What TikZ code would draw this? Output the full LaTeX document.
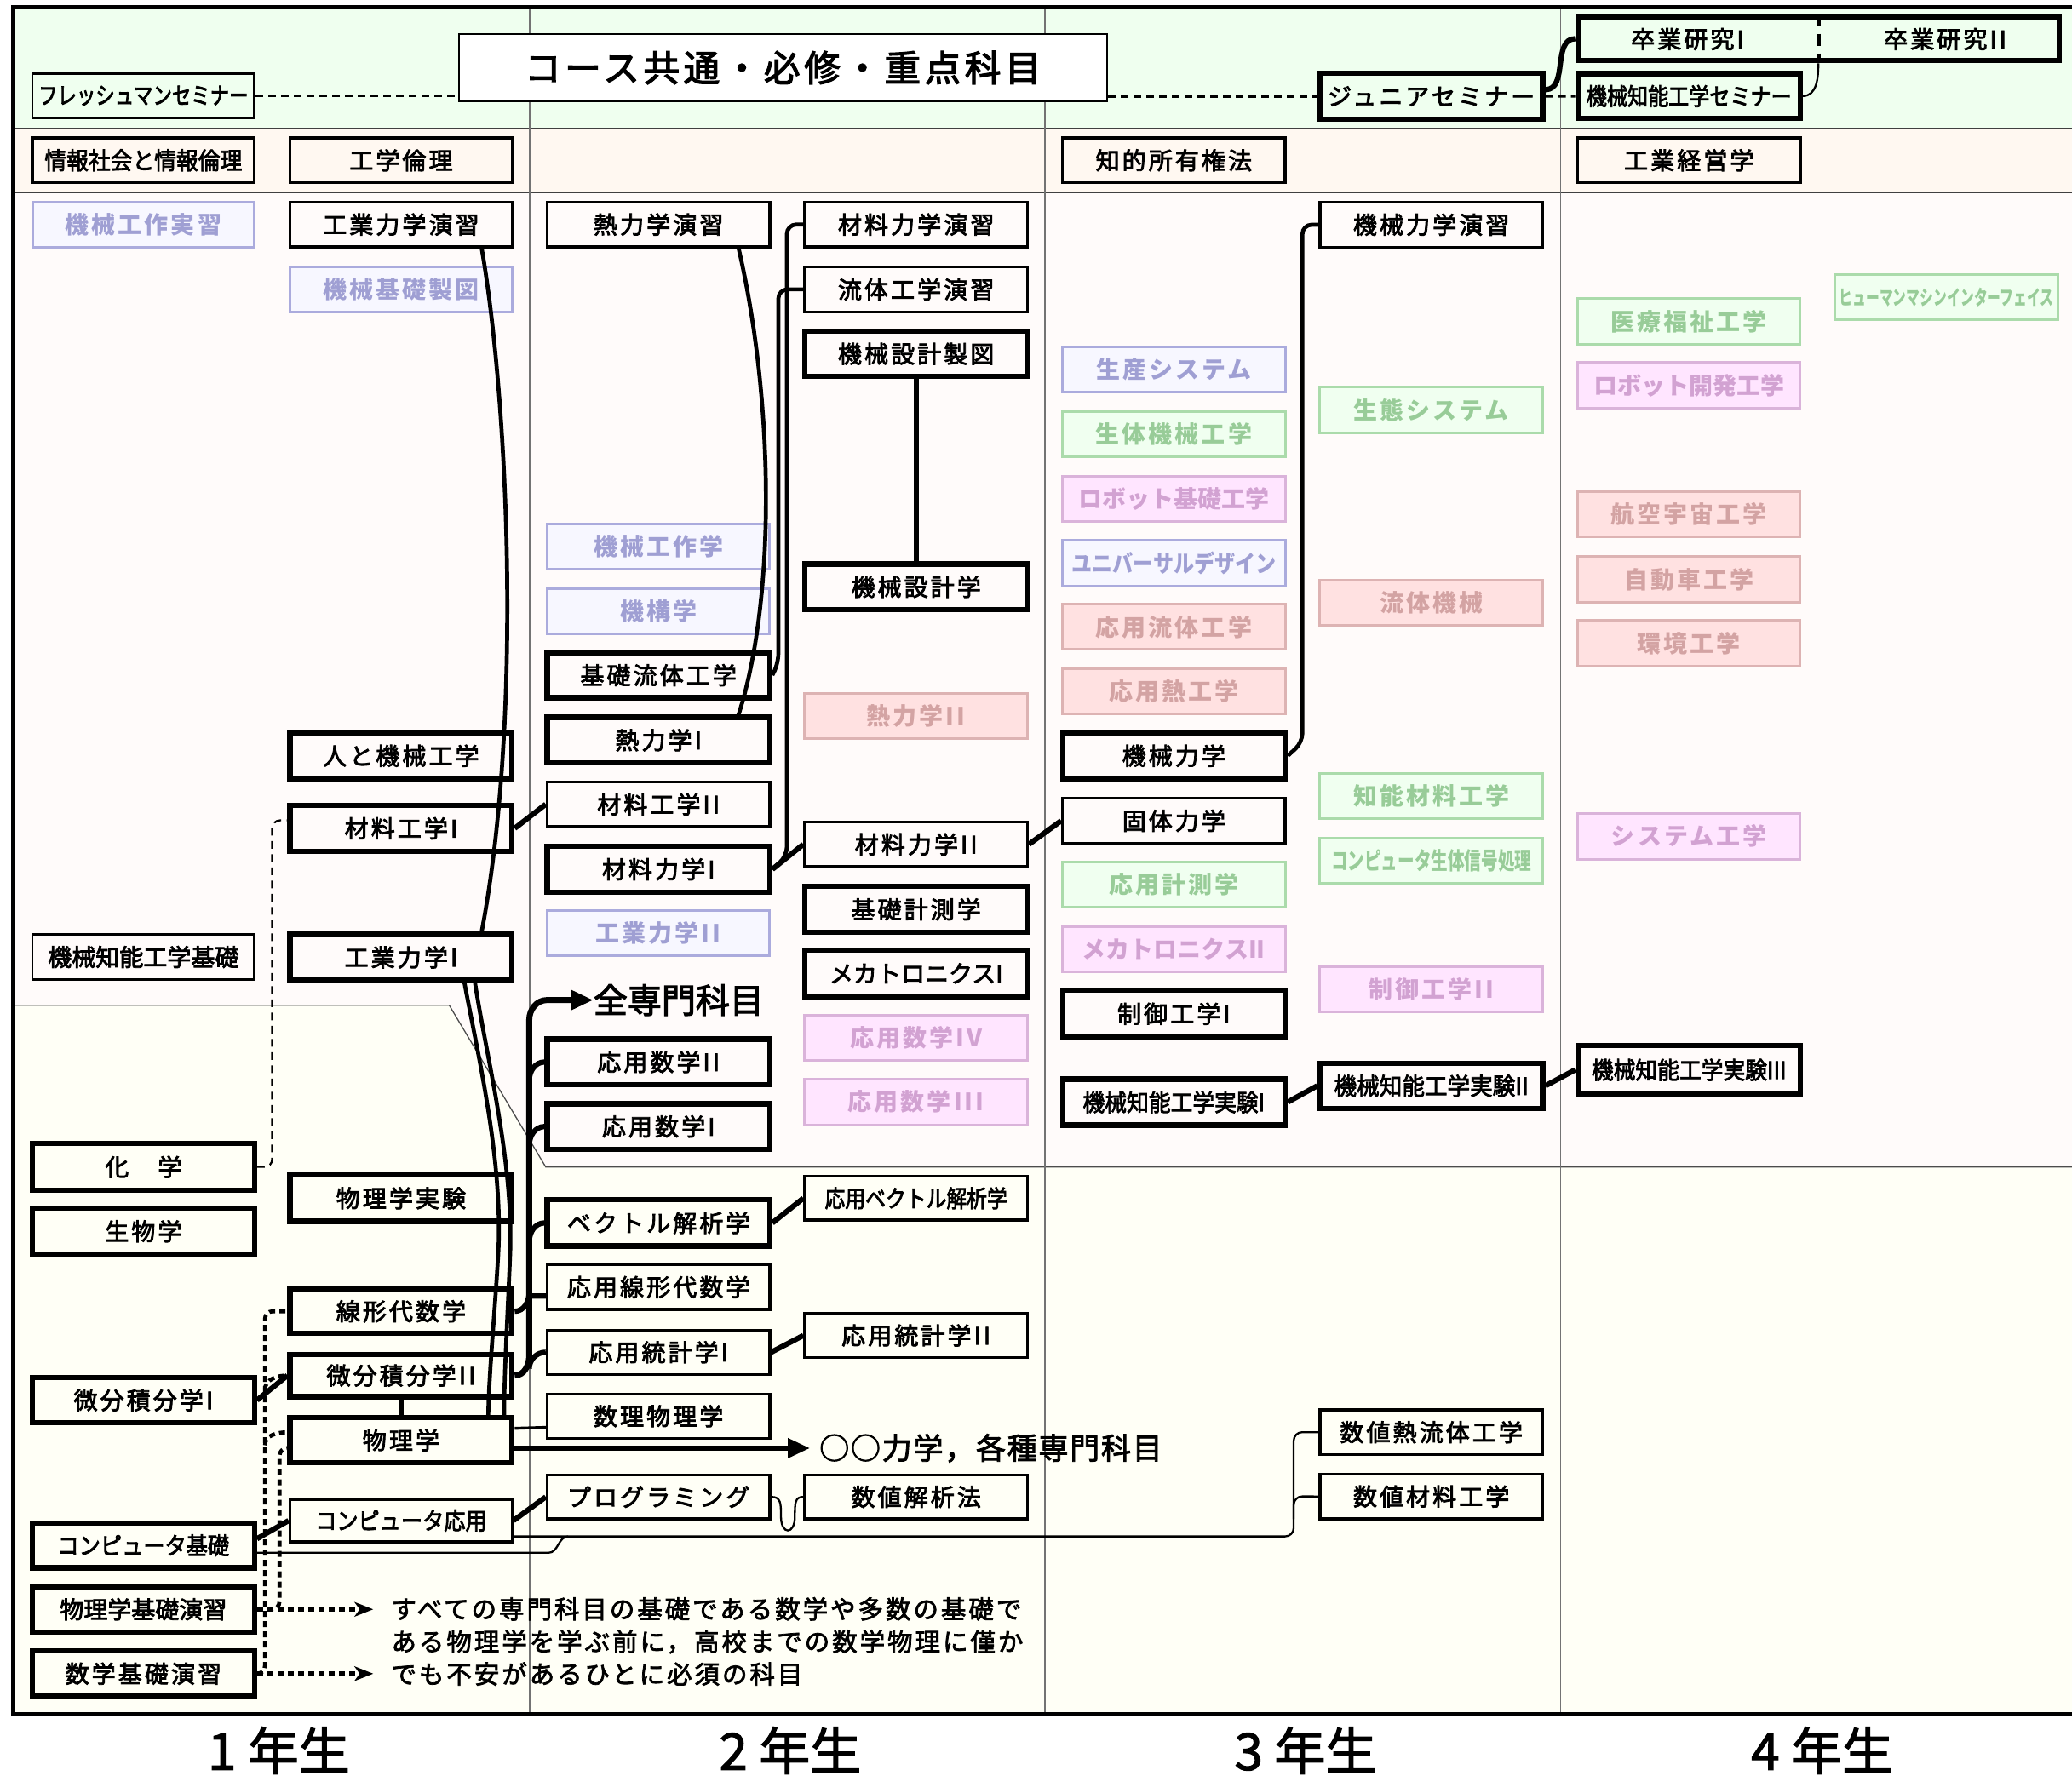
\documentclass[tikz,border=0pt]{standalone}
\usepackage{fontspec}
\usepackage{graphicx}
\usetikzlibrary{arrows.meta,calc}
\newfontfamily\jp[LetterSpace=11,FakeBold=3]{Noto Sans CJK JP}
\newfontfamily\jpn[FakeBold=3]{Noto Sans CJK JP}
\newfontfamily\jpc[LetterSpace=11]{Noto Sans CJK JP}
\newfontfamily\jpcn{Noto Sans CJK JP}
\newfontfamily\jpd[LetterSpace=10,FakeBold=2.5]{Noto Sans CJK JP}
\newfontfamily\jpm[LetterSpace=5,FakeBold=2.5]{Noto Sans CJK JP}
\newfontfamily\jpy[FakeBold=2]{Noto Sans CJK JP}
\definecolor{bandgreen}{HTML}{EFFFEF}
\definecolor{bandpeach}{HTML}{FFF8F1}
\definecolor{bgmain}{HTML}{FFFBFA}
\definecolor{bglow}{HTML}{FFFFF6}
\definecolor{cbF}{HTML}{F7F7FF}\definecolor{cbD}{HTML}{ABABDD}\definecolor{cbT}{HTML}{9F9FD3}
\definecolor{cgF}{HTML}{F0FFF0}\definecolor{cgD}{HTML}{ABDBAB}\definecolor{cgT}{HTML}{98CC98}
\definecolor{cpF}{HTML}{FFE1E1}\definecolor{cpD}{HTML}{DDB3B3}\definecolor{cpT}{HTML}{D3A3A3}
\definecolor{cvF}{HTML}{FFE5FF}\definecolor{cvD}{HTML}{DAB3DA}\definecolor{cvT}{HTML}{D2A2D2}
\newcommand\crs[7]{%
  \pgfmathsetmacro\bxw{(#5-#3-3)*1.5517}%
  \pgfmathsetmacro\bxh{(#6-#4-3)*1.5517}%
  \node[#2, minimum width=\bxw pt, minimum height=\bxh pt] (#1) at ({(#3+#5)/2},{(#4+#6)/2}) {#7};}
\newcommand\sqz[2]{\scalebox{#1}[1]{\jpn #2}}
\newcommand\sqc[2]{\scalebox{#1}[1]{\jpcn\bfseries #2}}
\begin{document}
\begin{tikzpicture}[x=1.5517pt,y=-1.5517pt,
  base/.style={rectangle, inner sep=0pt, align=center, font={\jp\fontsize{28}{30}\selectfont}},
  kb/.style={base, draw=black, line width=6.2pt},
  mb/.style={base, draw=black, line width=3.4pt},
  tb/.style={base, draw=black, line width=2.4pt},
  colbox/.style={base, line width=3pt, font={\jpc\bfseries\fontsize{28}{30}\selectfont}},
  cblue/.style={colbox, draw=cbD, fill=cbF, text=cbT},
  cgreen/.style={colbox, draw=cgD, fill=cgF, text=cgT},
  cpink/.style={colbox, draw=cpD, fill=cpF, text=cpT},
  cviol/.style={colbox, draw=cvD, fill=cvF, text=cvT},
  titlebox/.style={base, draw=black, fill=white, line width=2pt, font={\jp\fontsize{42.5}{44}\selectfont}},
  cthick/.style={line width=6.2pt},
  ccurve/.style={line width=4.7pt},
  cmed/.style={line width=3.4pt},
  cthin/.style={line width=2.3pt},
  ctrunk/.style={line width=7pt},
  cdash/.style={line width=3.4pt, dash pattern=on 9pt off 6pt},
  cdashthin/.style={line width=2.3pt, dash pattern=on 9pt off 6.5pt},
  cdot/.style={line width=4.7pt, dash pattern=on 7pt off 5pt},
  bigtip/.style={-{Triangle[length=26pt,width=22pt]}},
  smalltip/.style={-{Stealth[length=22pt,width=17pt,inset=6pt]}},
  yearlbl/.style={inner sep=0pt, font={\jpy\fontsize{60}{62}\selectfont}}
]
\useasboundingbox (0,0) rectangle (1568,1344);
\clip (0,0) rectangle (1568,1344);
\fill[white] (0,0) rectangle (1568,1344);
% backgrounds
\fill[bgmain] (10,5) rectangle (1590,1297);
\fill[bglow] (10,761) -- (340,761) -- (413,883.4) -- (1590,883.4) -- (1590,1297) -- (10,1297) -- cycle;
\fill[bandgreen] (10,5) rectangle (1590,96.8);
\fill[bandpeach] (10,96.8) rectangle (1590,145.6);
\draw[line width=1.3pt, black!75] (10,96.8) -- (1590,96.8) (10,145.6) -- (1590,145.6);
\draw[line width=1.3pt, black!70] (10,761) -- (340,761) -- (413,883.4) -- (1590,883.4);
\draw[line width=1.8pt, black!55] (401,5) -- (401,1297) (791,5) -- (791,1297) (1181,5) -- (1181,1297);
\draw[line width=4.7pt] (10.2,5.3) rectangle (1600,1297.6);
% title
\crs{title}{titlebox}{346}{24}{839}{78.4}{コース共通・必修・重点科目}
% top band
\crs{fresh}{tb}{23}{54.2}{194}{90.9}{\sqz{0.8}{フレッシュマンセミナー}}
\crs{junior}{kb}{997.3}{53.9}{1169}{91.8}{ジュニアセミナー}
\crs{kseminar}{kb}{1192.5}{54.2}{1363.8}{91.2}{\sqz{0.86}{機械知能工学セミナー}}
\crs{sotsuken}{kb}{1192.5}{11.2}{1559.6}{47.4}{}
\node[base] (sotsu1) at (1277,29.6) {卒業研究I};
\node[base] (sotsu2) at (1472,29.6) {卒業研究II};
% second band
\crs{joho}{mb}{23}{103}{194}{139.7}{\sqz{0.92}{情報社会と情報倫理}}
\crs{rinri}{mb}{218}{103}{389}{139.7}{工学倫理}
\crs{chiteki}{mb}{802.6}{103}{974}{139.7}{知的所有権法}
\crs{keiei}{mb}{1192.5}{103}{1363.8}{139.7}{工業経営学}
% column 1
\crs{kksj}{cblue}{23}{151.6}{194}{188.8}{機械工作実習}
\crs{kgen}{mb}{218}{151.6}{389}{188.3}{工業力学演習}
\crs{kkseizu}{cblue}{218}{200.4}{389}{237.7}{機械基礎製図}
\crs{hito}{kb}{218}{553.3}{389}{590.9}{人と機械工学}
\crs{zk1}{kb}{218}{608}{389}{646}{材料工学I}
\crs{kkki}{tb}{23}{705.8}{194}{743}{\sqz{1}{機械知能工学基礎}}
\crs{kg1}{kb}{218}{705.8}{389}{743.6}{工業力学I}
\crs{kagaku}{kb}{23}{864}{194}{902.6}{化　学}
\crs{jikkenb}{kb}{218}{888}{389}{926}{物理学実験}
\crs{seibutsu}{kb}{23}{913}{194}{951}{生物学}
\crs{senkei}{kb}{218}{974.3}{389}{1010.9}{線形代数学}
\crs{bibun2}{kb}{218}{1023.6}{389}{1058.8}{微分積分学II}
\crs{bibun1}{kb}{23}{1041.3}{194}{1078.5}{微分積分学I}
\crs{butsuri}{kb}{218}{1071.5}{389}{1108.9}{物理学}
\crs{capp}{mb}{218}{1133.4}{389}{1168.6}{\sqz{0.9}{コンピュータ応用}}
\crs{cbase}{kb}{23}{1151.2}{194}{1188.3}{\sqz{0.9}{コンピュータ基礎}}
\crs{butsuen}{kb}{23}{1199.6}{194}{1236.8}{\sqz{1}{物理学基礎演習}}
\crs{suuen}{kb}{23}{1248.3}{194}{1285.5}{数学基礎演習}
% column 2 left
\crs{netsuen}{mb}{412.6}{151.6}{584}{188.3}{熱力学演習}
\crs{kkosa}{cblue}{412.6}{395.2}{584}{432.2}{機械工作学}
\crs{kikou}{cblue}{412.6}{444}{584}{481.4}{機構学}
\crs{kisoryu}{kb}{412.6}{492.6}{584}{529.6}{基礎流体工学}
\crs{netsu1}{kb}{412.6}{541.5}{584}{579.1}{熱力学I}
\crs{zk2}{mb}{412.6}{590.3}{584}{627.3}{材料工学II}
\crs{zr1}{kb}{412.6}{639.2}{584}{676.8}{材料力学I}
\crs{kg2}{cblue}{412.6}{688}{584}{725}{工業力学II}
\crs{ouyou2}{kb}{412.6}{785.1}{584}{822.7}{応用数学II}
\crs{ouyou1}{kb}{412.6}{834}{584}{871.5}{応用数学I}
\crs{vector}{kb}{412.6}{906.7}{584}{944.7}{ベクトル解析学}
\crs{osenkei}{mb}{412.6}{956}{584}{992.6}{応用線形代数学}
\crs{otoukei1}{mb}{412.6}{1005.3}{584}{1041.9}{応用統計学I}
\crs{suuributsu}{mb}{412.6}{1053.7}{584}{1090.3}{数理物理学}
\crs{prog}{mb}{412.6}{1115.1}{584}{1151.1}{プログラミング}
% column 2 right
\crs{zren}{mb}{607.5}{151.6}{779}{188.3}{材料力学演習}
\crs{ryuen}{mb}{607.5}{200.4}{779}{237.7}{流体工学演習}
\crs{sekkeiseizu}{kb}{607.5}{249.2}{779}{286.5}{機械設計製図}
\crs{sekkei}{kb}{607.5}{425.4}{779}{463}{機械設計学}
\crs{netsu2}{cpink}{607.5}{523.1}{779}{560.7}{熱力学II}
\crs{zr2}{mb}{607.5}{620.8}{779}{657.5}{材料力学II}
\crs{keisoku}{kb}{607.5}{669.4}{779}{707.2}{基礎計測学}
\crs{meka1}{kb}{607.5}{717.6}{779}{756.1}{\sqz{1}{メカトロニクスI}}
\crs{ouyou4}{cviol}{607.5}{767}{779}{804.3}{応用数学IV}
\crs{ouyou3}{cviol}{607.5}{815.3}{779}{852.9}{応用数学III}
\crs{ovector}{mb}{607.5}{889}{779}{925}{\sqz{0.85}{応用ベクトル解析学}}
\crs{otoukei2}{mb}{607.5}{992.6}{779}{1029.2}{応用統計学II}
\crs{suuchi}{mb}{607.5}{1115.1}{779}{1151.1}{数値解析法}
% column 3 left
\crs{seisan}{cblue}{802.6}{261}{974}{298.4}{生産システム}
\crs{seitai}{cgreen}{802.6}{309.9}{974}{347.2}{生体機械工学}
\crs{robokiso}{cviol}{802.6}{358.8}{974}{396}{\sqc{1}{ロボット基礎工学}}
\crs{univ}{cblue}{802.6}{407.6}{974}{444.9}{\sqc{0.86}{ユニバーサルデザイン}}
\crs{oryutai}{cpink}{802.6}{456}{974}{493.2}{応用流体工学}
\crs{onetsu}{cpink}{802.6}{505}{974}{542}{応用熱工学}
\crs{kikairiki}{kb}{802.6}{553.3}{974}{590.9}{機械力学}
\crs{kotai}{mb}{802.6}{602.8}{974}{639.8}{固体力学}
\crs{okeisoku}{cgreen}{802.6}{651}{974}{688}{応用計測学}
\crs{meka2}{cviol}{802.6}{699.9}{974}{737.4}{\sqc{1}{メカトロニクスII}}
\crs{seigyo1}{kb}{802.6}{748.1}{974}{786.6}{制御工学I}
\crs{jikken1}{kb}{802.6}{815.3}{974}{853.2}{\sqz{0.92}{機械知能工学実験I}}
% column 3 right
\crs{kikairikien}{mb}{997.3}{151.6}{1169}{188.6}{機械力学演習}
\crs{seitaisys}{cgreen}{997.3}{291.6}{1169}{329.2}{生態システム}
\crs{ryutaikikai}{cpink}{997.3}{437.5}{1169}{475}{流体機械}
\crs{chinou}{cgreen}{997.3}{583.8}{1169}{621.4}{知能材料工学}
\crs{compsig}{cgreen}{997.3}{633.2}{1169}{670.2}{\sqc{0.7}{コンピュータ生体信号処理}}
\crs{seigyo2}{cviol}{997.3}{730}{1169}{767.3}{制御工学II}
\crs{jikken2}{kb}{997.3}{803.4}{1169}{840.4}{\sqz{0.95}{機械知能工学実験II}}
\crs{suunetsu}{mb}{997.3}{1065.8}{1169}{1102.4}{数値熱流体工学}
\crs{suuzai}{mb}{997.3}{1114.3}{1169}{1151.2}{数値材料工学}
% column 4
\crs{hmi}{cgreen}{1387}{206.3}{1559}{243.3}{{\fontsize{24}{26}\selectfont\sqc{0.66}{ヒューマンマシンインターフェイス}}}
\crs{iryou}{cgreen}{1192.5}{224.4}{1363.8}{262}{医療福祉工学}
\crs{robokai}{cviol}{1192.5}{272.9}{1363.8}{310.8}{\sqc{1}{ロボット開発工学}}
\crs{koukuu}{cpink}{1192.5}{370.6}{1363.8}{407.9}{航空宇宙工学}
\crs{jidousha}{cpink}{1192.5}{419.7}{1363.8}{457.3}{自動車工学}
\crs{kankyou}{cpink}{1192.5}{468}{1363.8}{506}{環境工学}
\crs{system}{cviol}{1192.5}{614}{1363.8}{652}{システム工学}
\crs{jikken3}{kb}{1192.5}{790.1}{1363.8}{829.5}{\sqz{0.92}{機械知能工学実験III}}
% free texts
\node[inner sep=0pt, anchor=west, font={\jpn\fontsize{40}{42}\selectfont}] (zen) at (449,757) {全専門科目};
\node[inner sep=0pt, anchor=west, font={\jpm\fontsize{35}{37}\selectfont}] (maru) at (620,1096.2) {○○力学，各種専門科目};
\node[inner sep=0pt, anchor=west, align=left, font={\jpd\fontsize{29.5}{38.2}\selectfont}] (desc) at (296,1242.5) {すべての専門科目の基礎である数学や多数の基礎で\\ある物理学を学ぶ前に，高校までの数学物理に僅か\\でも不安があるひとに必須の科目};
\node[yearlbl] (y1) at (211,1325) {1 年生};
\node[yearlbl] (y2) at (598,1325) {2 年生};
\node[yearlbl] (y3) at (988,1325) {3 年生};
\node[yearlbl] (y4) at (1379,1325) {4 年生};
% ---- connectors
\draw[cdash] (fresh.east) -- (fresh.east -| title.west);
\draw[cdash] (title.east |- junior.west) -- (junior.west);
\draw[cdash] (junior.east) -- (kseminar.west);
\draw[cthick] ($(junior.east)+(0,-5)$) to[out=0,in=180] (sotsuken.west);
\draw[cthin] (kseminar.east) to[out=0,in=-90] (sotsuken.south);
\draw[line width=4.7pt, dash pattern=on 14pt off 9pt] (sotsuken.north) -- (sotsuken.south);
% long curves (mechanics / physics)
\draw[ccurve] ($(kgen.south)+(61,0)$) .. controls (384,300) and (396,540) .. ($(kg1.north)+(61,0)$);
\draw[ccurve] ($(kg1.south)+(56,0)$) .. controls (368,800) and (389,880) .. (386,950) .. controls (384,1000) and (381.5,1040) .. ($(butsuri.north)+(78,0)$);
\draw[ccurve] ($(kg1.south)+(48,0)$) .. controls (362,800) and (381,880) .. (377,950) .. controls (374,1000) and (370,1040) .. ($(butsuri.north)+(66,0)$);
\draw[ccurve] ($(netsuen.south)+(60.6,0)$) .. controls (585,300) and (588,450) .. ($(netsu1.north)+(60.6,0)$);
\draw[ccurve, rounded corners=11pt] (zren.west) -| (595.5,648) -- (zr1.east);
\draw[ccurve, rounded corners=11pt] (ryuen.west) -| (589,502) -- (kisoryu.east);
\draw[ccurve, rounded corners=11pt] (kikairikien.west) -| (985.6,562) -- (kikairiki.east);
% straight thick links
\draw[cthick] (sekkeiseizu.south) -- (sekkei.north);
\draw[cthick] (zk1.east) -- (zk2.west);
\draw[cthick] (zr1.east) -- (zr2.west);
\draw[cthick] (zr2.east) -- (kotai.west);
\draw[cthick] (jikken1.east) -- (jikken2.west);
\draw[cthick] (jikken2.east) -- (jikken3.west);
\draw[cthick] (bibun1.east) -- (bibun2.west);
\draw[cthick] ($(cbase.east)+(0,-5)$) -- (capp.west);
\draw[cthick] (capp.east) -- (prog.west);
\draw[cthick] (vector.east) -- (ovector.west);
\draw[cthick] (otoukei1.east) -- (otoukei2.west);
\draw[cthick] (bibun2.south) -- (butsuri.north);
% trunk to all specialised subjects
\draw[ctrunk, bigtip] (bibun2.east) to[out=0,in=-90] (400.5,1026) -- (400.5,772) to[out=90,in=180] (414,757) -- (zen.west);
\draw[cthick] (400.5,818) to[out=90,in=180] (ouyou2.west);
\draw[cthick] (400.5,867) to[out=90,in=180] (ouyou1.west);
\draw[cthick] (400.5,940) to[out=90,in=180] (vector.west);
\draw[cthick] (400.5,981) -- ($(osenkei.west)+(0,6.7)$);
\draw[cthick] (400.5,1036) to[out=90,in=180] (otoukei1.west);
\draw[cthick] (senkei.east) to[out=0,in=-90] (400.5,978);
% physics
\draw[cmed] ($(butsuri.east)+(0,-9)$) -- ($(suuributsu.west)+(0,8.5)$);
\draw[cthick, bigtip] ($(butsuri.east)+(0,6)$) -- ($(maru.west)+(-7,0)$);
% computer line
\draw[cthin] ($(cbase.east)+(0,5.6)$) -- (415,1175.4) to[out=0,in=180] (430,1163);
\draw[cthin, rounded corners=10pt] ($(capp.east)+(0,12)$) -- (979,1163) -- (979,1084.1) -- (suunetsu.west);
\draw[cthin, rounded corners=10pt] (979,1150) -- (979,1132.7) -- (suuzai.west);
\draw[cthin] (prog.east) .. controls (591,1133) and (591,1138) .. (591,1148) .. controls (591,1162) and (601.5,1162) .. (601.5,1148) .. controls (601.5,1138) and (601.5,1133) .. (suuchi.west);
% dotted foundations
\draw[cdot, rounded corners=9pt] (suuen.east) -- (200.5,1266.9) -- (200.5,992.6) -- (senkei.west);
\draw[cdot] (200.5,1052) to[out=90,in=180] (bibun2.west);
\draw[cdot] (200.5,1094) to[out=90,in=180] ($(butsuri.west)+(0,-6)$);
\draw[cdot, rounded corners=9pt] (butsuen.east) -- (211.5,1218.2) -- (211.5,1096.2) -- ($(butsuri.west)+(0,6)$);
\draw[cdot, smalltip] (butsuen.east) -- ++(88,0);
\draw[cdot, smalltip] (suuen.east) -- ++(88,0);
% chemistry
\draw[cdashthin, rounded corners=9pt] (kagaku.east) -| (206,621) -- ($(zk1.west)+(0,-6)$);
\end{tikzpicture}
\end{document}
